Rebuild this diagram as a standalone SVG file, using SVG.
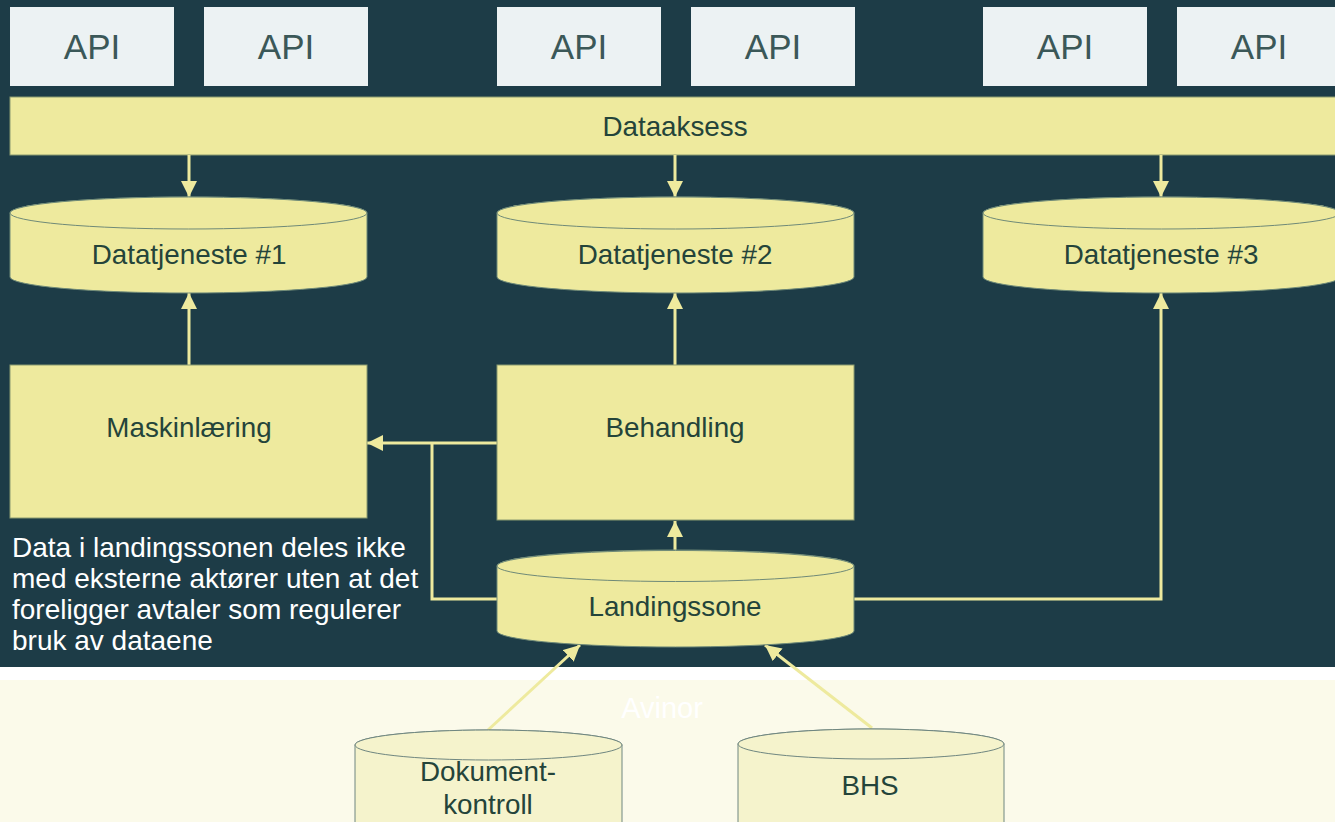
<svg xmlns="http://www.w3.org/2000/svg" width="1335" height="822" viewBox="0 0 1335 822">
<style>
.api{fill:#ECF2F3}
.apit{font-family:"Liberation Sans",Arial,sans-serif;font-size:35px;fill:#3B5858;text-anchor:middle}
.yel{fill:#EEEA9E;stroke:#8A9A70;stroke-width:1}
.cyl{fill:#EEEA9E;stroke:#6F8A78;stroke-width:1}
.cylL{fill:#F5F3CC;stroke:#6F8680;stroke-width:1}
.t{font-family:"Liberation Sans",Arial,sans-serif;font-size:27.8px;fill:#24443A;text-anchor:middle}
.note{font-family:"Liberation Sans",Arial,sans-serif;font-size:28px;fill:#FFFFFF}
.con{fill:none;stroke:#EEEA9E;stroke-width:3}
</style>
<defs>
<marker id="ah" viewBox="0 0 10 10" refX="10" refY="5" markerWidth="16" markerHeight="16" markerUnits="userSpaceOnUse" orient="auto">
<path d="M0,0 L10,5 L0,10 Z" fill="#EEEA9E"/>
</marker>
</defs>
<rect x="0" y="0" width="1335" height="667" fill="#1D3C47"/>
<rect x="0" y="667" width="1335" height="13" fill="#FFFFFF"/>
<rect x="0" y="680" width="1335" height="142" fill="#FBFAEA"/>
<text x="662" y="718" font-family="'Liberation Sans',Arial,sans-serif" font-size="29" fill="#FFFFFF" text-anchor="middle">Avinor</text>

<g id="api1"><rect class="api" x="10" y="7" width="164" height="79"/><text class="apit" x="92" y="59">API</text></g>
<g id="api2"><rect class="api" x="204" y="7" width="164" height="79"/><text class="apit" x="286" y="59">API</text></g>
<g id="api3"><rect class="api" x="497" y="7" width="164" height="79"/><text class="apit" x="579" y="59">API</text></g>
<g id="api4"><rect class="api" x="691" y="7" width="164" height="79"/><text class="apit" x="773" y="59">API</text></g>
<g id="api5"><rect class="api" x="983" y="7" width="164" height="79"/><text class="apit" x="1065" y="59">API</text></g>
<g id="api6"><rect class="api" x="1177" y="7" width="164" height="79"/><text class="apit" x="1259" y="59">API</text></g>

<g id="dataaksess"><rect class="yel" x="10" y="97" width="1330" height="58"/><text class="t" x="675" y="136">Dataaksess</text></g>

<g id="connectors">
<line class="con" x1="189" y1="155" x2="189" y2="197" marker-end="url(#ah)"/>
<line class="con" x1="675" y1="155" x2="675" y2="197" marker-end="url(#ah)"/>
<line class="con" x1="1161" y1="155" x2="1161" y2="197" marker-end="url(#ah)"/>
<line class="con" x1="189" y1="365" x2="189" y2="293" marker-end="url(#ah)"/>
<line class="con" x1="675" y1="365" x2="675" y2="293" marker-end="url(#ah)"/>
<line class="con" x1="675" y1="551" x2="675" y2="521" marker-end="url(#ah)"/>
<polyline class="con" points="854,599 1161,599 1161,293" marker-end="url(#ah)"/>
<line class="con" x1="497" y1="443" x2="367" y2="443" marker-end="url(#ah)"/>
<polyline class="con" points="497,599 432,599 432,443"/>
<line class="con" stroke-width="4" x1="488" y1="730" x2="580" y2="645" marker-end="url(#ah)"/>
<line class="con" stroke-width="4" x1="872" y1="728" x2="765" y2="645" marker-end="url(#ah)"/>
</g>

<g id="dt1"><path class="cyl" d="M10,213 L10,277 A178.5,16 0 0 0 367,277 L367,213 A178.5,16 0 0 0 10,213 Z"/><ellipse class="cyl" cx="188.5" cy="213" rx="178.5" ry="16"/><text class="t" x="189" y="264">Datatjeneste #1</text></g>
<g id="dt2"><path class="cyl" d="M497,213 L497,277 A178.5,16 0 0 0 854,277 L854,213 A178.5,16 0 0 0 497,213 Z"/><ellipse class="cyl" cx="675.5" cy="213" rx="178.5" ry="16"/><text class="t" x="675" y="264">Datatjeneste #2</text></g>
<g id="dt3"><path class="cyl" d="M983,213 L983,277 A178.5,16 0 0 0 1340,277 L1340,213 A178.5,16 0 0 0 983,213 Z"/><ellipse class="cyl" cx="1161.5" cy="213" rx="178.5" ry="16"/><text class="t" x="1161" y="264">Datatjeneste #3</text></g>

<g id="maskin"><rect class="yel" x="10" y="365" width="357" height="153" stroke="none"/><text class="t" x="189" y="437">Maskinlæring</text></g>
<g id="behandling"><rect class="yel" x="497" y="365" width="357" height="155" stroke="none"/><text class="t" x="675" y="437">Behandling</text></g>

<g id="landing"><path class="cyl" d="M497,566 L497,631 A178.5,16 0 0 0 854,631 L854,566 A178.5,16 0 0 0 497,566 Z"/><ellipse class="cyl" cx="675.5" cy="566" rx="178.5" ry="15.5"/><text class="t" x="675" y="616">Landingssone</text></g>

<g id="note"><text class="note" x="12" y="557">Data i landingssonen deles ikke</text><text class="note" x="12" y="588">med eksterne aktører uten at det</text><text class="note" x="12" y="619">foreligger avtaler som regulerer</text><text class="note" x="12" y="650">bruk av dataene</text></g>

<g id="dok"><path class="cylL" d="M355,745 L355,830 A133.5,15 0 0 0 622,830 L622,745 A133.5,15 0 0 0 355,745 Z"/><ellipse class="cylL" cx="488.5" cy="745" rx="133.5" ry="15"/><text class="t" x="488" y="781">Dokument-</text><text class="t" x="488" y="814">kontroll</text></g>
<g id="bhs"><path class="cylL" d="M738,744 L738,830 A133,15 0 0 0 1004,830 L1004,744 A133,15 0 0 0 738,744 Z"/><ellipse class="cylL" cx="871" cy="744" rx="133" ry="15"/><text class="t" x="870" y="795">BHS</text></g>
</svg>
